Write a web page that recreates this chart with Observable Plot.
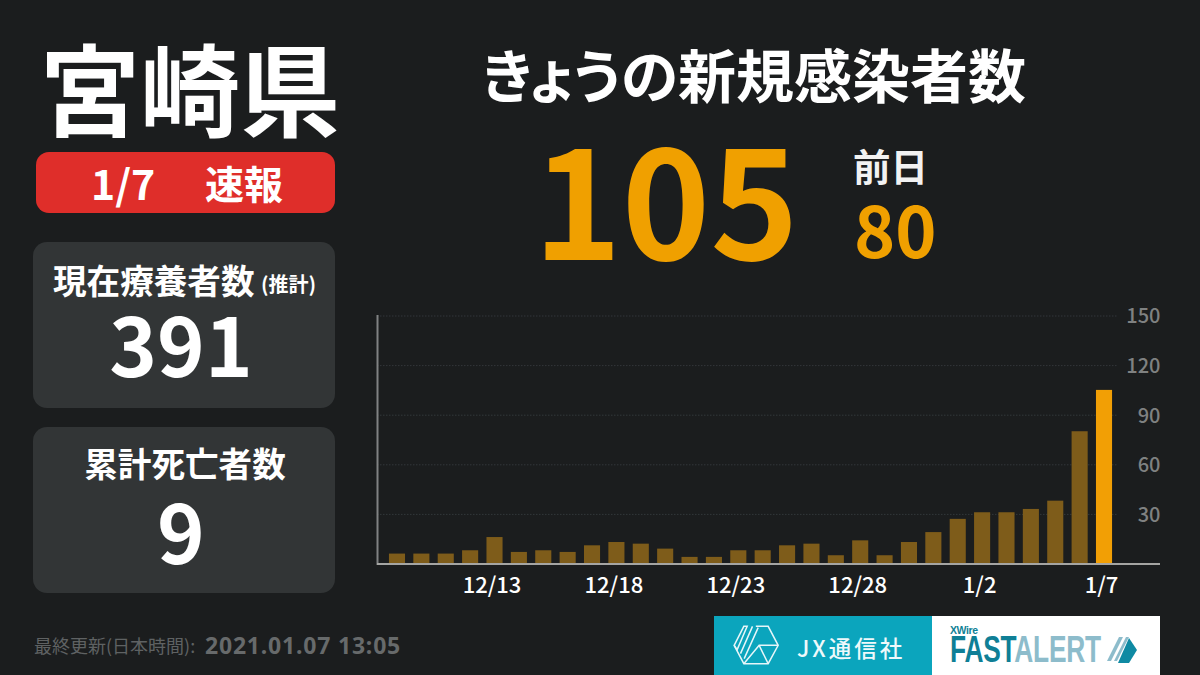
<!DOCTYPE html>
<html lang="ja">
<head>
<meta charset="utf-8">
<script src="https://cdn.jsdelivr.net/npm/d3@7"></script>
<script src="https://cdn.jsdelivr.net/npm/@observablehq/plot@0.6"></script>
<style>
html,body{margin:0;padding:0;background:#1b1d1e;}
#page{position:relative;width:1200px;height:675px;overflow:hidden;background:#1b1d1e;font-family:"Noto Sans CJK JP","Noto Sans",sans-serif;color:#fff;}
.t{position:absolute;line-height:1;white-space:nowrap;transform:translate(-50%,-50%);}
.l{position:absolute;line-height:1;white-space:nowrap;transform:translateY(-50%);}
.box{position:absolute;}
#chart{position:absolute;left:360px;top:300px;}
#chart svg{display:block;}
</style>
</head>
<body>
<div id="page">
  <div class="t" style="left:190px;top:86px;font-size:100px;font-weight:700;">宮崎県</div>
  <div class="box" style="left:36px;top:152px;width:299px;height:61px;border-radius:13px;background:#df2e2a;"></div>
  <div class="l" style="left:91px;top:182px;font-size:41px;font-weight:700;">1/7</div>
  <div class="l" style="left:205px;top:182px;font-size:39px;font-weight:700;">速報</div>

  <div class="box" style="left:33px;top:242px;width:302px;height:166px;border-radius:14px;background:#323536;"></div>
  <div class="l" style="left:53px;top:280px;font-size:33.6px;font-weight:700;">現在療養者数</div>
  <div class="l" style="left:261px;top:284px;font-size:20px;font-weight:700;">(推計)</div>
  <div class="t" style="left:181px;top:341px;font-size:81px;font-weight:700;">391</div>

  <div class="box" style="left:33px;top:427px;width:302px;height:166px;border-radius:14px;background:#323536;"></div>
  <div class="t" style="left:185px;top:463px;font-size:33.6px;font-weight:700;">累計死亡者数</div>
  <div class="t" style="left:181px;top:528px;font-size:81px;font-weight:700;">9</div>

  <div class="l" style="left:482px;top:73px;font-size:58px;font-weight:700;font-feature-settings:'palt';">きょうの新規感染者数</div>
  <div class="t" style="left:666px;top:195px;font-size:150px;font-weight:700;color:#f0a000;">105</div>
  <div class="l" style="left:853px;top:165px;font-size:37.5px;font-weight:700;color:#f2f2f2;">前日</div>
  <div class="l" style="left:854px;top:228px;font-size:70px;font-weight:700;color:#f0a000;">80</div>

  <div class="l" style="left:34px;top:645px;font-size:18px;color:#5f6263;">最終更新(日本時間):</div>
  <div class="l" style="left:205px;top:645px;font-size:23px;font-weight:700;letter-spacing:.8px;color:#676a6b;font-family:'Noto Sans',sans-serif;">2021.01.07 13:05</div>

  <div class="box" style="left:714px;top:616px;width:218px;height:59px;background:#0ba5bd;"></div>
  <div class="box" style="left:932px;top:616px;width:228px;height:59px;background:#fff;"></div>
  <svg class="box" style="left:733px;top:625px;" width="47" height="40" viewBox="100 64 140 120" fill="none" stroke="#e6f6f9" stroke-width="4.5">
    <path d="M168 68H205L235 125L205 180H132L103 125"/>
    <path d="M235 125H178L132 180M178 125L205 180"/>
    <path d="M103 125L132 68H142L112 138ZM122 150L158 68M133 165L175 72"/>
  </svg>
  <div class="l" style="left:797px;top:647px;font-size:22.5px;font-weight:500;letter-spacing:3px;color:#eef9fb;">JX通信社</div>
  <div class="l" style="left:950px;top:630px;font-size:10.5px;font-weight:700;color:#0f7f96;font-family:'Liberation Sans',sans-serif;letter-spacing:-.4px;">XWire</div>
  <div class="l" style="left:950px;top:650px;font-size:36px;font-weight:700;letter-spacing:-.3px;font-family:'Liberation Sans',sans-serif;color:#0f7f96;transform:translateY(-50%) scaleX(.73);transform-origin:left center;">FAST<span style="color:#8dbccb;">ALERT</span></div>
  <svg class="box" style="left:1106px;top:636px;" width="31" height="28" viewBox="0 0 31 28">
    <path d="M1 25L13 1H17L5 25ZM8 25L20 1H23L11 25Z" fill="#8dbccb"/>
    <path d="M23 2L31 14L23 27H12Z" fill="#0f8aa3"/>
  </svg>
  <div id="chart"></div>
</div>
<script>
const dates = ["12/9","12/10","12/11","12/12","12/13","12/14","12/15","12/16","12/17","12/18",
  "12/19","12/20","12/21","12/22","12/23","12/24","12/25","12/26","12/27","12/28",
  "12/29","12/30","12/31","1/1","1/2","1/3","1/4","1/5","1/6","1/7"];
const cases = [6,6,6,8,16,7,8,7,11,13,12,9,4,4,8,8,11,12,5,14,5,13,19,27,31,31,33,38,80,105];
const xTicks = ["12/13","12/18","12/23","12/28","1/2","1/7"];
const yTicks = [30,60,90,120,150];
const latest = "1/7";
const rows = dates.map((date,i)=>({date,value:cases[i]}));

const chart = Plot.plot({
  width: 810,
  height: 310,
  marginLeft: 17,
  marginRight: 10,
  marginTop: 15.5,
  marginBottom: 46.5,
  style: {background:"transparent", fontFamily:'"Noto Sans CJK JP","Noto Sans",sans-serif'},
  x: {domain: dates, range:[24.8,756.2], paddingInner:0.34, paddingOuter:0.17, round:false, label:null},
  y: {domain:[0,150], label:null},
  marks: [
    Plot.ruleY(yTicks,{stroke:"#33373a",strokeWidth:1,strokeDasharray:"1.5 1.5",insetRight:42}),
    Plot.barY(rows,{x:"date",y:"value",fill:d=>d.date===latest?"#f29f05":"#7e5c1a"}),
    Plot.frame({anchor:"left",stroke:"#808283",strokeWidth:2}),
    Plot.ruleY([0],{stroke:"#a5a5a3",strokeWidth:2}),
    Plot.axisX({ticks:xTicks,tickSize:0,tickPadding:13,label:null,fill:"#ffffff",fontSize:22,fontWeight:500,dx:-3}),
    Plot.axisY({ticks:yTicks,anchor:"right",tickSize:0,tickPadding:0,textAnchor:"end",label:null,fill:"#7f8181",fontSize:20,fontWeight:500,dy:1})
  ]
});
document.getElementById("chart").appendChild(chart);
</script>
</body>
</html>
